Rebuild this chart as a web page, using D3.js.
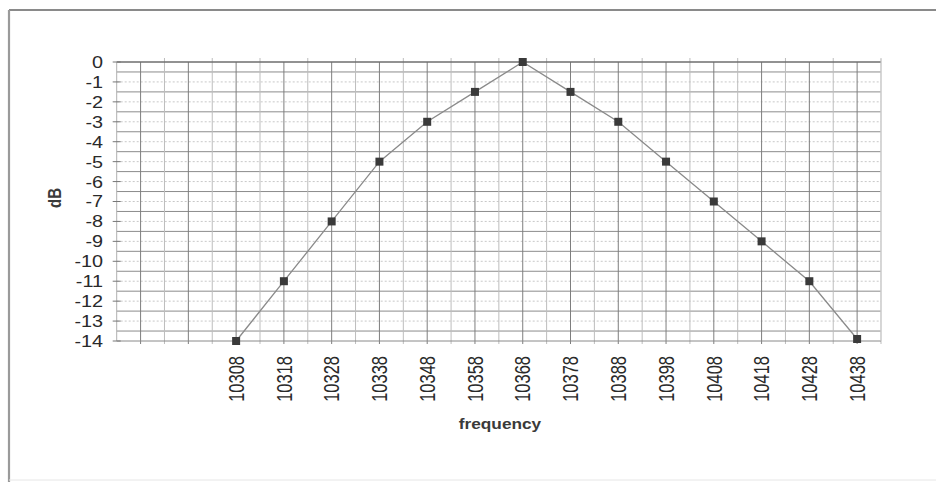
<!DOCTYPE html>
<html><head><meta charset="utf-8">
<script src="https://cdn.jsdelivr.net/npm/d3@7"></script>
<style>
html,body{margin:0;padding:0;background:#fff;}
svg{display:block;font-family:"Liberation Sans",Arial,sans-serif;}
</style></head>
<body><svg id="chart" width="936" height="482"></svg>
<script>
// category slots (first two slots are empty on the original axis)
const categories = ["", " ", "10308","10318","10328","10338","10348","10358","10368","10378","10388","10398","10408","10418","10428","10438"];
const dbValues = [null, null, -14, -11, -8, -5, -3, -1.5, 0, -1.5, -3, -5, -7, -9, -11, -13.9];
const yTicks = [0,-1,-2,-3,-4,-5,-6,-7,-8,-9,-10,-11,-12,-13,-14];
const xTitle = "frequency";
const yTitle = "dB";

const svg = d3.select("#chart");
const plot = {left: 116.7, right: 881, top: 62, bottom: 341};

// outer frame (scanned edge)
svg.append("line").attr("x1",9).attr("x2",936).attr("y1",10).attr("y2",10).attr("stroke","#8a8a8a").attr("stroke-width",2.2);
svg.append("line").attr("x1",9).attr("x2",9).attr("y1",10).attr("y2",482).attr("stroke","#9a9a9a").attr("stroke-width",2.2);
svg.append("line").attr("x1",9).attr("x2",936).attr("y1",480).attr("y2",480).attr("stroke","#e6e6e6").attr("stroke-width",1);

const idx = d3.range(categories.length);
const x = d3.scalePoint().domain(idx).range([plot.left, plot.right]).padding(0.5);
const y = d3.scaleLinear().domain([-14, 0]).range([plot.bottom, plot.top]);
const step = x.step();

const g = svg.append("g");

g.selectAll("line.hmin").data(d3.range(-13, 0)).join("line")
  .attr("x1", plot.left).attr("x2", plot.right)
  .attr("y1", d => y(d)).attr("y2", d => y(d))
  .attr("stroke", "#c8c8c8").attr("stroke-width", 1).attr("stroke-dasharray", "2,2");
g.selectAll("line.hmaj").data(d3.range(-13.5, 0, 1)).join("line")
  .attr("x1", plot.left).attr("x2", plot.right)
  .attr("y1", d => y(d)).attr("y2", d => y(d))
  .attr("stroke", "#8c8c8c").attr("stroke-width", 1);
g.selectAll("line.vmin").data(idx).join("line")
  .attr("x1", d => x(d) + step/2).attr("x2", d => x(d) + step/2)
  .attr("y1", plot.top - 4).attr("y2", plot.bottom + 3)
  .attr("stroke", "#bdbdbd").attr("stroke-width", 1);
g.selectAll("line.vmaj").data(idx).join("line")
  .attr("x1", d => x(d)).attr("x2", d => x(d))
  .attr("y1", plot.top).attr("y2", plot.bottom + 3)
  .attr("stroke", "#7e7e7e").attr("stroke-width", 1);
g.append("line").attr("x1",plot.left).attr("x2",plot.right).attr("y1",plot.top).attr("y2",plot.top).attr("stroke","#6e6e6e").attr("stroke-width",1.3);
g.append("line").attr("x1",plot.left).attr("x2",plot.right).attr("y1",plot.bottom).attr("y2",plot.bottom).attr("stroke","#8a8a8a").attr("stroke-width",1);
g.append("line").attr("x1",plot.left).attr("x2",plot.left).attr("y1",plot.top).attr("y2",plot.bottom).attr("stroke","#b0b0b0").attr("stroke-width",1);
g.append("line").attr("x1",plot.right).attr("x2",plot.right).attr("y1",plot.top-3).attr("y2",plot.bottom).attr("stroke","#cfcfcf").attr("stroke-width",1);
g.selectAll("line.yt").data(yTicks).join("line")
  .attr("x1", plot.left - 4).attr("x2", plot.left + 4)
  .attr("y1", d => y(d)).attr("y2", d => y(d))
  .attr("stroke", "#777");

g.selectAll("text.yl").data(yTicks).join("text")
  .attr("transform", d => `translate(103,${y(d)}) scale(1.2,1)`)
  .attr("text-anchor", "end").attr("dy", "0.36em")
  .attr("font-size", 16.5).attr("fill", "#2a2a2a")
  .text(d => d3.format("d")(d).replace("−","-"));

g.selectAll("text.xl").data(idx.filter(i => categories[i].trim() !== "")).join("text")
  .attr("transform", d => `translate(${x(d)},356) scale(1.3,1) rotate(-90)`)
  .attr("text-anchor", "end").attr("dy", "0.36em")
  .attr("font-size", 16.5).attr("fill", "#2a2a2a")
  .text(d => categories[d]);

svg.append("text").attr("transform", "translate(500,424) scale(1.15,1)")
  .attr("text-anchor","middle").attr("dy","0.36em")
  .attr("font-size",15).attr("font-weight","bold").attr("fill","#3a3a3a").text(xTitle);
svg.append("text").attr("transform", "translate(54,198) scale(1.25,1) rotate(-90)")
  .attr("text-anchor","middle").attr("dy","0.36em")
  .attr("font-size",15).attr("font-weight","bold").attr("fill","#3a3a3a").text(yTitle);

const pts = idx.filter(i => dbValues[i] !== null).map(i => ({i, v: dbValues[i]}));
const line = d3.line().x(d => x(d.i)).y(d => y(d.v));
g.append("path").datum(pts).attr("d", line)
  .attr("fill","none").attr("stroke","#8a8a8a").attr("stroke-width",1.3);
g.selectAll("rect.m").data(pts).join("rect")
  .attr("x", d => x(d.i) - 4).attr("y", d => y(d.v) - 4)
  .attr("width", 8).attr("height", 8)
  .attr("fill", "#3a3a3a");
</script></body></html>
